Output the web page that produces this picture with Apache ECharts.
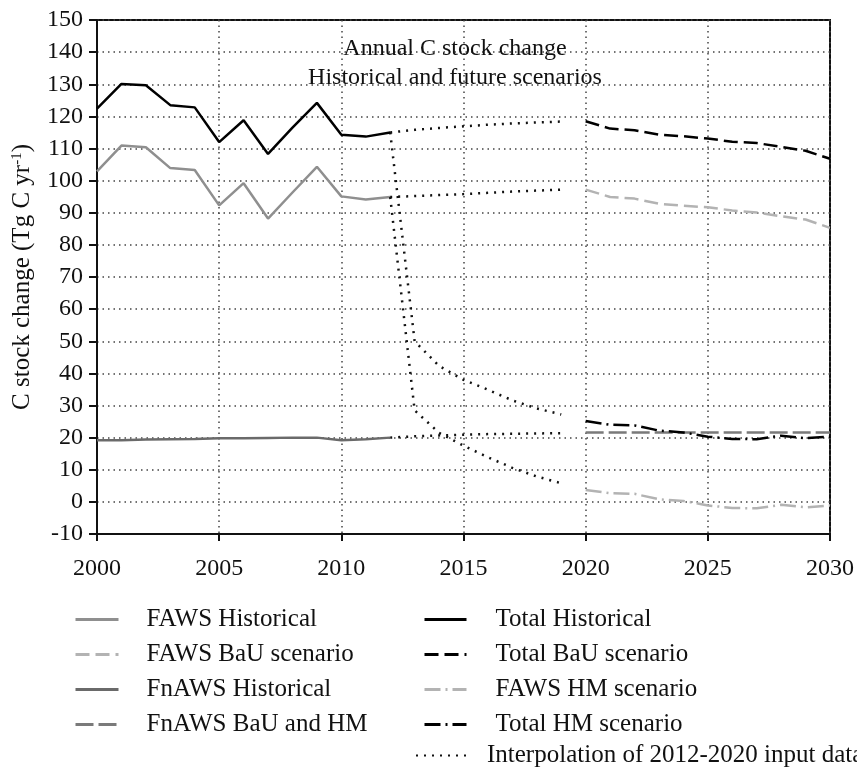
<!DOCTYPE html>
<html>
<head>
<meta charset="utf-8">
<script src="https://cdn.jsdelivr.net/npm/echarts@6/dist/echarts.min.js"></script>
<style>
  html, body { margin: 0; padding: 0; background: #fff; }
  #chart { width: 857px; height: 769px; }
</style>
</head>
<body>
<div id="chart"></div>
<script>
// years
const histYears = [2000, 2001, 2002, 2003, 2004, 2005, 2006, 2007, 2008, 2009, 2010, 2011, 2012];
const interpYears = [2012, 2013, 2014, 2015, 2016, 2017, 2018, 2019];
const futureYears = [2020, 2021, 2022, 2023, 2024, 2025, 2026, 2027, 2028, 2029, 2030];

// historical (Tg C / yr)
const totalHist = [122.4, 130.1, 129.7, 123.5, 122.8, 112.0, 118.8, 108.3, 116.5, 124.2, 114.3, 113.7, 115.0];
const fawsHist = [102.9, 110.9, 110.4, 103.9, 103.3, 92.3, 99.2, 88.2, 96.3, 104.3, 95.1, 94.1, 94.9];
const fnawsHist = [19.2, 19.2, 19.4, 19.5, 19.6, 19.8, 19.8, 19.9, 20.0, 20.0, 19.2, 19.5, 20.0];

// interpolation 2012-2019
const interpTotalBau = [115.0, 115.8, 116.4, 116.9, 117.4, 117.8, 118.1, 118.4];
const interpFawsBau = [94.9, 95.2, 95.5, 95.8, 96.2, 96.6, 96.9, 97.2];
const interpFnaws = [20.0, 20.4, 20.7, 20.9, 21.1, 21.2, 21.3, 21.4];
const interpTotalHm = [115.0, 50.0, 42.3, 38.0, 34.9, 31.6, 29.1, 27.2];
const interpFawsHm = [94.9, 28.5, 21.5, 17.5, 13.9, 10.6, 7.9, 5.8];

// scenarios 2020-2030
const totalBau = [118.5, 116.2, 115.7, 114.3, 113.8, 113.1, 112.1, 111.7, 110.5, 109.3, 106.8];
const fawsBau = [97.2, 94.9, 94.4, 92.8, 92.2, 91.7, 90.7, 90.1, 88.9, 87.9, 85.3];
const fnawsBauHm = [21.6, 21.6, 21.6, 21.6, 21.6, 21.6, 21.6, 21.6, 21.6, 21.6, 21.6];
const fawsHm = [3.7, 2.7, 2.5, 0.8, 0.3, -1.1, -1.9, -2.0, -0.9, -1.7, -1.1];
const totalHm = [25.2, 24.0, 23.8, 22.2, 21.6, 20.3, 19.6, 19.5, 20.6, 19.8, 20.3];

const INTERP = "Interpolation of 2012-2020 input data";
const serif = "Liberation Serif, Times New Roman, serif";

function pairs(xs, ys) {
  return xs.map((x, i) => [x, ys[i]]);
}

function line(name, xs, ys, color, width, type, z) {
  return {
    name,
    type: "line",
    data: pairs(xs, ys),
    symbol: "none",
    showSymbol: false,
    z: z || 2,
    lineStyle: { color, width, type },
    itemStyle: { color },
  };
}

const chart = echarts.init(document.getElementById("chart"));

const legendText = {
  fontFamily: serif,
  fontSize: 25,
  lineHeight: 25,
  color: "#111",
};

// legend: line sample only, no marker
const noMarker = { opacity: 0, borderWidth: 0 };

chart.setOption({
  animation: false,
  backgroundColor: "#fff",
  title: {
    text: "Annual C stock change\nHistorical and future scenarios",
    left: 450,
    top: 29,
    textAlign: "center",
    textStyle: {
      fontFamily: serif,
      fontSize: 24,
      fontWeight: "normal",
      lineHeight: 29,
      color: "#111",
    },
  },
  grid: {
    left: 97,
    right: 27,
    top: 20,
    bottom: 235,
    show: true,
    borderColor: "#111",
    borderWidth: 2,
    backgroundColor: "transparent",
  },
  legend: [
    {
      data: ["FAWS Historical", "FAWS BaU scenario", "FnAWS Historical", "FnAWS BaU and HM"],
      itemStyle: noMarker,
      lineStyle: { width: 3 },
      orient: "vertical",
      left: 74,
      top: 607,
      padding: 0,
      itemWidth: 43,
      itemHeight: 14,
      itemGap: 10,
      textStyle: Object.assign({ padding: [0, 0, 0, 23] }, legendText),
    },
    {
      data: ["Total Historical", "Total BaU scenario", "FAWS HM scenario", "Total HM scenario"],
      itemStyle: noMarker,
      lineStyle: { width: 3 },
      orient: "vertical",
      left: 423,
      top: 607,
      padding: 0,
      itemWidth: 42,
      itemHeight: 14,
      itemGap: 10,
      textStyle: Object.assign({ padding: [0, 0, 0, 24] }, legendText),
    },
    {
      data: [INTERP],
      itemStyle: noMarker,
      orient: "vertical",
      left: 415,
      top: 743,
      padding: 0,
      itemWidth: 53,
      itemHeight: 14,
      textStyle: Object.assign({ padding: [0, 0, 0, 13] }, legendText),
    },
  ],
  xAxis: {
    type: "value",
    min: 2000,
    max: 2030,
    interval: 5,
    axisLine: { show: true, onZero: false, lineStyle: { color: "#111", width: 2 } },
    axisTick: { show: true, inside: false, length: 7, lineStyle: { color: "#111", width: 2 } },
    axisLabel: {
      margin: 23,
      fontFamily: serif,
      fontSize: 24,
      color: "#111",
      formatter: (v) => String(v),
    },
    splitLine: {
      show: true,
      lineStyle: { color: "#444", width: 1.5, type: [1.5, 4] },
    },
  },
  yAxis: {
    type: "value",
    min: -10,
    max: 150,
    interval: 10,
    name: "{a|C stock change (Tg C yr}{s|-1}{a|)}",
    nameLocation: "middle",
    nameGap: 62,
    nameTextStyle: {
      rich: {
        a: { fontFamily: serif, fontSize: 25, color: "#111" },
        s: { fontFamily: serif, fontSize: 15, color: "#111", verticalAlign: "top", padding: [0, 0, 10, 0] },
      },
    },
    axisLine: { show: true, onZero: false, lineStyle: { color: "#111", width: 2 } },
    axisTick: { show: true, inside: false, length: 8, lineStyle: { color: "#111", width: 2 } },
    axisLabel: {
      margin: 14,
      fontFamily: serif,
      fontSize: 24,
      color: "#111",
    },
    splitLine: {
      show: true,
      lineStyle: { color: "#444", width: 1.5, type: [1.5, 4] },
    },
  },
  series: [
    line("FAWS Historical", histYears, fawsHist, "#8f8f8f", 2.5, "solid"),
    line("FAWS BaU scenario", futureYears, fawsBau, "#b3b3b3", 2.5, [14, 6]),
    line("FnAWS Historical", histYears, fnawsHist, "#6a6a6a", 2.5, "solid"),
    line("FnAWS BaU and HM", futureYears, fnawsBauHm, "#7a7a7a", 2.5, [18, 5]),
    line("Total Historical", histYears, totalHist, "#000", 2.5, "solid", 3),
    line("Total BaU scenario", futureYears, totalBau, "#000", 2.5, [14, 6], 3),
    line("FAWS HM scenario", futureYears, fawsHm, "#b3b3b3", 2.5, [16, 5, 2, 5]),
    line("Total HM scenario", futureYears, totalHm, "#000", 2.5, [16, 5, 2, 5], 3),
    line(INTERP, interpYears, interpTotalBau, "#111", 2.5, [2, 6]),
    line(INTERP, interpYears, interpFawsBau, "#111", 2.5, [2, 6]),
    line(INTERP, interpYears, interpFnaws, "#111", 2.5, [2, 6]),
    line(INTERP, interpYears, interpTotalHm, "#111", 2.5, [2, 6]),
    line(INTERP, interpYears, interpFawsHm, "#111", 2.5, [2, 6]),
  ],
});
</script>
</body>
</html>
